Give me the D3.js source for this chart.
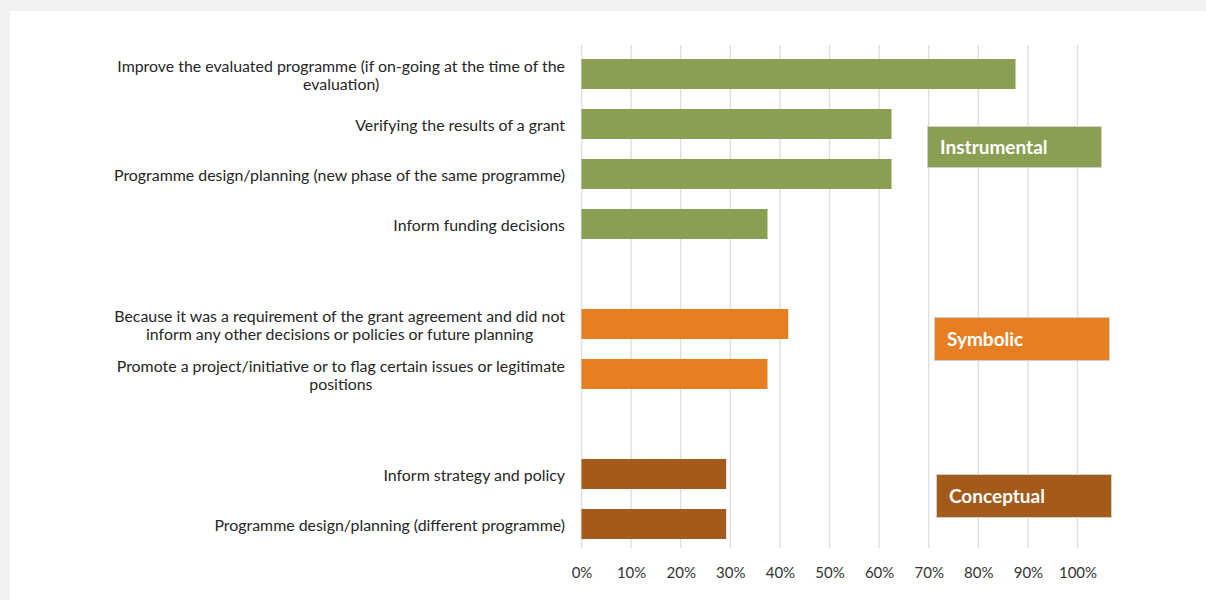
<!DOCTYPE html>
<html>
<head>
<meta charset="utf-8">
<script src="https://cdn.jsdelivr.net/npm/d3@7"></script>
<style>
  html, body { margin: 0; padding: 0; background: #f1f1ef; }
  svg { display: block; }
</style>
</head>
<body>
<svg id="chart" width="1206" height="600"></svg>
<script>
// Reasons for using evaluation results, grouped by type of use (share of respondents)
const instrumentalLabels = [
  ["Improve the evaluated programme (if on-going at the time of the", "evaluation)"],
  ["Verifying the results of a grant"],
  ["Programme design/planning (new phase of the same programme)"],
  ["Inform funding decisions"]
];
const instrumentalValues = [0.875, 0.625, 0.625, 0.375];

const symbolicLabels = [
  ["Because it was a requirement of the grant agreement and did not", "inform any other decisions or policies or future planning"],
  ["Promote a project/initiative or to flag certain issues or legitimate", "positions"]
];
const symbolicValues = [0.4167, 0.375];

const conceptualLabels = [
  ["Inform strategy and policy"],
  ["Programme design/planning (different programme)"]
];
const conceptualValues = [0.2917, 0.2917];

const groupNames = ["Instrumental", "Symbolic", "Conceptual"];
const groupColors = ["#8a9f52", "#e67f24", "#a45a18"];
const tickValues = [0, 0.1, 0.2, 0.3, 0.4, 0.5, 0.6, 0.7, 0.8, 0.9, 1.0];

// Build rows; an empty spacer row separates the groups
const groups = [
  { labels: instrumentalLabels, values: instrumentalValues },
  { labels: symbolicLabels, values: symbolicValues },
  { labels: conceptualLabels, values: conceptualValues }
];
const rows = [];
groups.forEach((g, gi) => {
  if (gi > 0) rows.push({ key: "spacer" + gi, spacer: true });
  g.labels.forEach((lines, i) => {
    rows.push({ key: "g" + gi + "r" + i, lines, value: g.values[i], group: gi });
  });
});

const svg = d3.select("#chart");

// white panel
svg.append("rect").attr("x", 10).attr("y", 11).attr("width", 1196).attr("height", 589).attr("fill", "#ffffff");

const x = d3.scaleLinear().domain([0, 1]).range([581.5, 1077.5]);
const y = d3.scaleBand()
  .domain(rows.map(r => r.key))
  .range([49, 549])
  .paddingInner(0.4)
  .paddingOuter(0.2);

// vertical gridlines
svg.append("g")
  .selectAll("line")
  .data(tickValues)
  .join("line")
  .attr("x1", d => x(d)).attr("x2", d => x(d))
  .attr("y1", 45).attr("y2", 548)
  .attr("stroke", "#dddddd")
  .attr("stroke-width", 1.3);

// x axis labels
const xAxis = d3.axisBottom(x)
  .tickValues(tickValues)
  .tickFormat(d3.format(".0%"))
  .tickSize(0)
  .tickPadding(0);
const axisG = svg.append("g").attr("transform", "translate(0,567)").call(xAxis);
axisG.select(".domain").remove();
axisG.selectAll("text")
  .attr("font-family", "Lato, 'Open Sans', sans-serif")
  .attr("font-size", 15)
  .attr("fill", "#333333");

// bars
const dataRows = rows.filter(r => !r.spacer);
svg.append("g")
  .selectAll("rect")
  .data(dataRows)
  .join("rect")
  .attr("x", x(0))
  .attr("y", d => y(d.key))
  .attr("width", d => x(d.value) - x(0))
  .attr("height", y.bandwidth())
  .attr("fill", d => groupColors[d.group]);

// category labels: right-aligned block, lines centred within it
const labelRight = 565;
const lineHeight = 18;
const labelG = svg.append("g");
dataRows.forEach(r => {
  const cy = y(r.key) + y.bandwidth() / 2;
  const t = labelG.append("text")
    .attr("font-family", "Lato, 'Open Sans', sans-serif")
    .attr("font-size", 15.9)
    .attr("fill", "#262626")
    .attr("text-anchor", "middle");
  const n = r.lines.length;
  const spans = r.lines.map((line, i) =>
    t.append("tspan")
      .attr("y", cy + (i - (n - 1) / 2) * lineHeight + 6.5)
      .text(line)
  );
  const maxW = d3.max(spans, s => s.node().getComputedTextLength());
  spans.forEach(s => s.attr("x", labelRight - maxW / 2));
});

// group tags
const tagLayout = [
  { x: 927, y: 126, w: 174, h: 41 },
  { x: 934, y: 317, w: 175, h: 43 },
  { x: 936, y: 474, w: 175, h: 43 }
];
const tagG = svg.append("g");
groupNames.forEach((name, i) => {
  const b = tagLayout[i];
  tagG.append("rect")
    .attr("x", b.x + 0.5).attr("y", b.y + 0.5)
    .attr("width", b.w).attr("height", b.h)
    .attr("fill", groupColors[i])
    .attr("stroke", "#cfcfcf")
    .attr("stroke-width", 1);
  tagG.append("text")
    .attr("x", b.x + 13)
    .attr("y", b.y + b.h / 2 + 7)
    .attr("font-family", "Lato, 'Open Sans', sans-serif")
    .attr("font-weight", "bold")
    .attr("font-size", 19)
    .attr("fill", "#ffffff")
    .text(name);
});
</script>
</body>
</html>
